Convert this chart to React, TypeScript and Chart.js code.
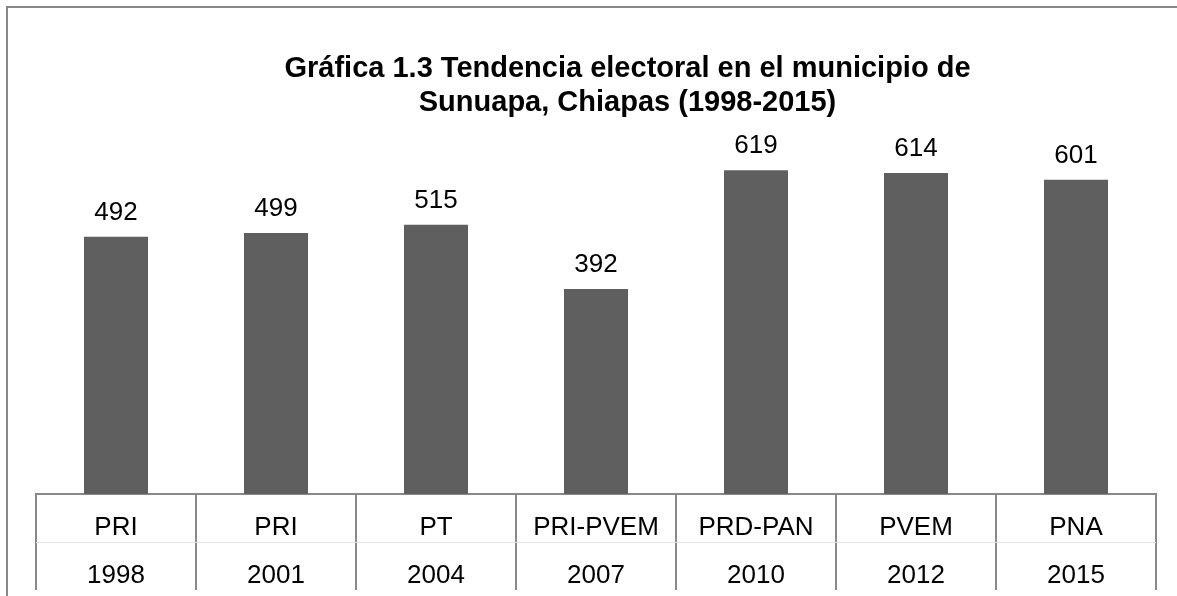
import React, { useEffect, useRef } from "react";
import { Chart, registerables } from "chart.js";

Chart.register(...registerables);

const parties = ["PRI", "PRI", "PT", "PRI-PVEM", "PRD-PAN", "PVEM", "PNA"];
const years = ["1998", "2001", "2004", "2007", "2010", "2012", "2015"];
const votes = [492, 499, 515, 392, 619, 614, 601];
const titleLines = [
  "Gráfica 1.3 Tendencia electoral en el municipio de",
  "Sunuapa, Chiapas (1998-2015)",
];

const FONT = "Arial, 'Liberation Sans', Helvetica, sans-serif";

const decorPlugin = {
  id: "decor",
  beforeDraw(chart: any) {
    const ctx = chart.ctx;
    ctx.save();
    ctx.fillStyle = "#ffffff";
    ctx.fillRect(0, 0, chart.width, chart.height);
    ctx.strokeStyle = "#878787";
    ctx.lineWidth = 2;
    ctx.strokeRect(7, 7, 3000, 3000);
    ctx.restore();
  },
  afterDraw(chart: any) {
    const ctx = chart.ctx;
    const area = chart.chartArea;
    ctx.save();
    // title
    ctx.fillStyle = "#000000";
    ctx.font = `bold 29px ${FONT}`;
    ctx.textAlign = "center";
    ctx.textBaseline = "alphabetic";
    ctx.fillText(titleLines[0], 627.5, 77);
    ctx.fillText(titleLines[1], 627.5, 111);
    // faint row separator in the axis table
    ctx.strokeStyle = "#e4e4e4";
    ctx.lineWidth = 1;
    ctx.beginPath();
    ctx.moveTo(area.left, 542.5);
    ctx.lineTo(area.right, 542.5);
    ctx.stroke();
    // data labels
    ctx.font = `26px ${FONT}`;
    ctx.fillStyle = "#000000";
    const meta = chart.getDatasetMeta(0);
    meta.data.forEach((bar: any, i: number) => {
      ctx.fillText(String(votes[i]), bar.x, bar.y - 17);
    });
    ctx.restore();
  },
};

export default function App() {
  const ref = useRef<HTMLCanvasElement | null>(null);
  useEffect(() => {
    if (!ref.current) return;
    const chart = new Chart(ref.current, {
      type: "bar",
      data: {
        labels: parties.map((p, i) => [p, years[i]]),
        datasets: [
          {
            data: votes,
            backgroundColor: "#5f5f5f",
            borderWidth: 0,
            barPercentage: 0.4,
            categoryPercentage: 1,
          },
        ],
      },
      options: {
        responsive: false,
        animation: false,
        devicePixelRatio: 1,
        layout: { padding: { left: 36, right: 21, top: 128, bottom: 0 } },
        plugins: {
          legend: { display: false },
          title: { display: false },
          tooltip: { enabled: false },
        },
        scales: {
          x: {
            offset: true,
            grid: {
              offset: true,
              drawOnChartArea: false,
              drawTicks: true,
              tickLength: 96,
              color: "#898989",
              lineWidth: 2,
            },
            border: { display: true, color: "#898989", width: 2 },
            ticks: {
              color: "#000000",
              font: { family: FONT, size: 26, lineHeight: 48 / 26 },
              padding: -86,
              maxRotation: 0,
              autoSkip: false,
            },
            afterFit(scale: any) {
              scale.height = 104;
            },
          },
          y: {
            display: false,
            min: 0,
            max: 700,
          },
        },
      },
      plugins: [decorPlugin],
    });
    return () => chart.destroy();
  }, []);
  return (
    <div
      style={{
        position: "fixed",
        left: 0,
        top: 0,
        width: 1177,
        height: 596,
        overflow: "hidden",
        background: "#fff",
      }}
    >
      <canvas ref={ref} width={1177} height={598} style={{ display: "block" }} />
    </div>
  );
}
